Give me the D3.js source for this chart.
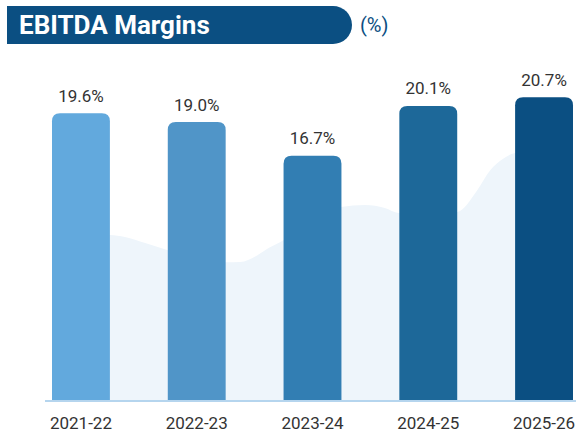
<!DOCTYPE html>
<html>
<head>
<meta charset="utf-8">
<script src="https://cdn.jsdelivr.net/npm/d3@7"></script>
<style>
  html, body { margin: 0; padding: 0; background: #fff; }
  svg { display: block; font-family: Roboto, "Noto Sans", sans-serif; }
</style>
</head>
<body>
<div class="canvas"></div>
<script>
const years = ["2021-22", "2022-23", "2023-24", "2024-25", "2025-26"];
const margins = [19.6, 19.0, 16.7, 20.1, 20.7];
const barColors = ["#62a9dd", "#5095c8", "#327eb3", "#1d6899", "#0b4f82"];

// decorative background wave: [half-band position, value]
const waveSteps = [0, 1, 1.26, 1.61, 1.99, 2.5, 3.0, 3.25, 3.55, 3.75, 3.99, 4.5, 4.99, 5.41, 5.75, 5.99, 6.5, 7.0, 7.34, 7.57, 7.8, 8.0, 8.9];
const waveValues = [11.28, 11.28, 11.14, 10.73, 10.25, 9.6, 9.41, 9.43, 9.9, 10.4, 10.9, 12.4, 13.19, 13.33, 13.12, 12.78, 12.75, 12.85, 14.3, 15.7, 16.5, 16.88, 17.2];

const dimensions = { width: 576, height: 432 };
const plot = { left: 52, right: 573, bottom: 400, axisLeft: 45 };

const svg = d3
  .select(".canvas")
  .append("svg")
  .attr("width", dimensions.width)
  .attr("height", dimensions.height);

const x = d3
  .scaleBand()
  .domain(years)
  .range([plot.left, plot.right])
  .paddingInner(0.5)
  .paddingOuter(0);

const y = d3.scaleLinear().domain([0, 22]).range([plot.bottom, plot.bottom - 22 * 14.63]);

const waveX = (p) => plot.left + (p * x.step()) / 2;

const area = d3
  .area()
  .x((d, i) => waveX(waveSteps[i]))
  .y0(plot.bottom)
  .y1((d) => y(d))
  .curve(d3.curveMonotoneX);

svg.append("path").datum(waveValues).attr("d", area).attr("fill", "#eef5fb");

const r = 8;
const barPath = (d, i) => {
  const x0 = x(years[i]);
  const x1 = x0 + x.bandwidth();
  const top = y(d);
  const b = y(0);
  return `M${x0},${b}V${top + r}Q${x0},${top} ${x0 + r},${top}H${x1 - r}Q${x1},${top} ${x1},${top + r}V${b}Z`;
};

svg
  .append("g")
  .selectAll("path")
  .data(margins)
  .enter()
  .append("path")
  .attr("d", barPath)
  .attr("fill", (d, i) => barColors[i]);

svg
  .append("g")
  .selectAll("text")
  .data(margins)
  .enter()
  .append("text")
  .attr("x", (d, i) => x(years[i]) + x.bandwidth() / 2)
  .attr("y", (d) => y(d) - 11.5)
  .attr("text-anchor", "middle")
  .attr("font-size", 17)
  .attr("fill", "#333")
  .text((d) => `${d.toFixed(1)}%`);

// baseline
svg
  .append("line")
  .attr("x1", plot.axisLeft)
  .attr("x2", dimensions.width)
  .attr("y1", plot.bottom + 1)
  .attr("y2", plot.bottom + 1)
  .attr("stroke", "#b5d5ee")
  .attr("stroke-width", 2);

const xAxis = d3.axisBottom(x).tickSize(0).tickPadding(0);

const xAxisGroup = svg
  .append("g")
  .attr("transform", `translate(0, ${plot.bottom + 16})`)
  .call(xAxis);

xAxisGroup.select(".domain").remove();
xAxisGroup
  .selectAll("text")
  .attr("font-size", 17)
  .attr("font-family", "Roboto, sans-serif")
  .attr("fill", "#333")
  .attr("dy", "0.75em");

// header
const header = svg.append("g");
header
  .append("path")
  .attr("d", "M7,6H333A19,19 0 0 1 333,44H7Z")
  .attr("fill", "#0b4f82");
header
  .append("text")
  .attr("x", 19)
  .attr("y", 34)
  .attr("font-size", 26)
  .attr("font-weight", "bold")
  .attr("fill", "#fff")
  .text("EBITDA Margins");
header
  .append("text")
  .attr("x", 360)
  .attr("y", 32)
  .attr("font-size", 20)
  .attr("fill", "#0b4f82")
  .text("(%)");
</script>
</body>
</html>
